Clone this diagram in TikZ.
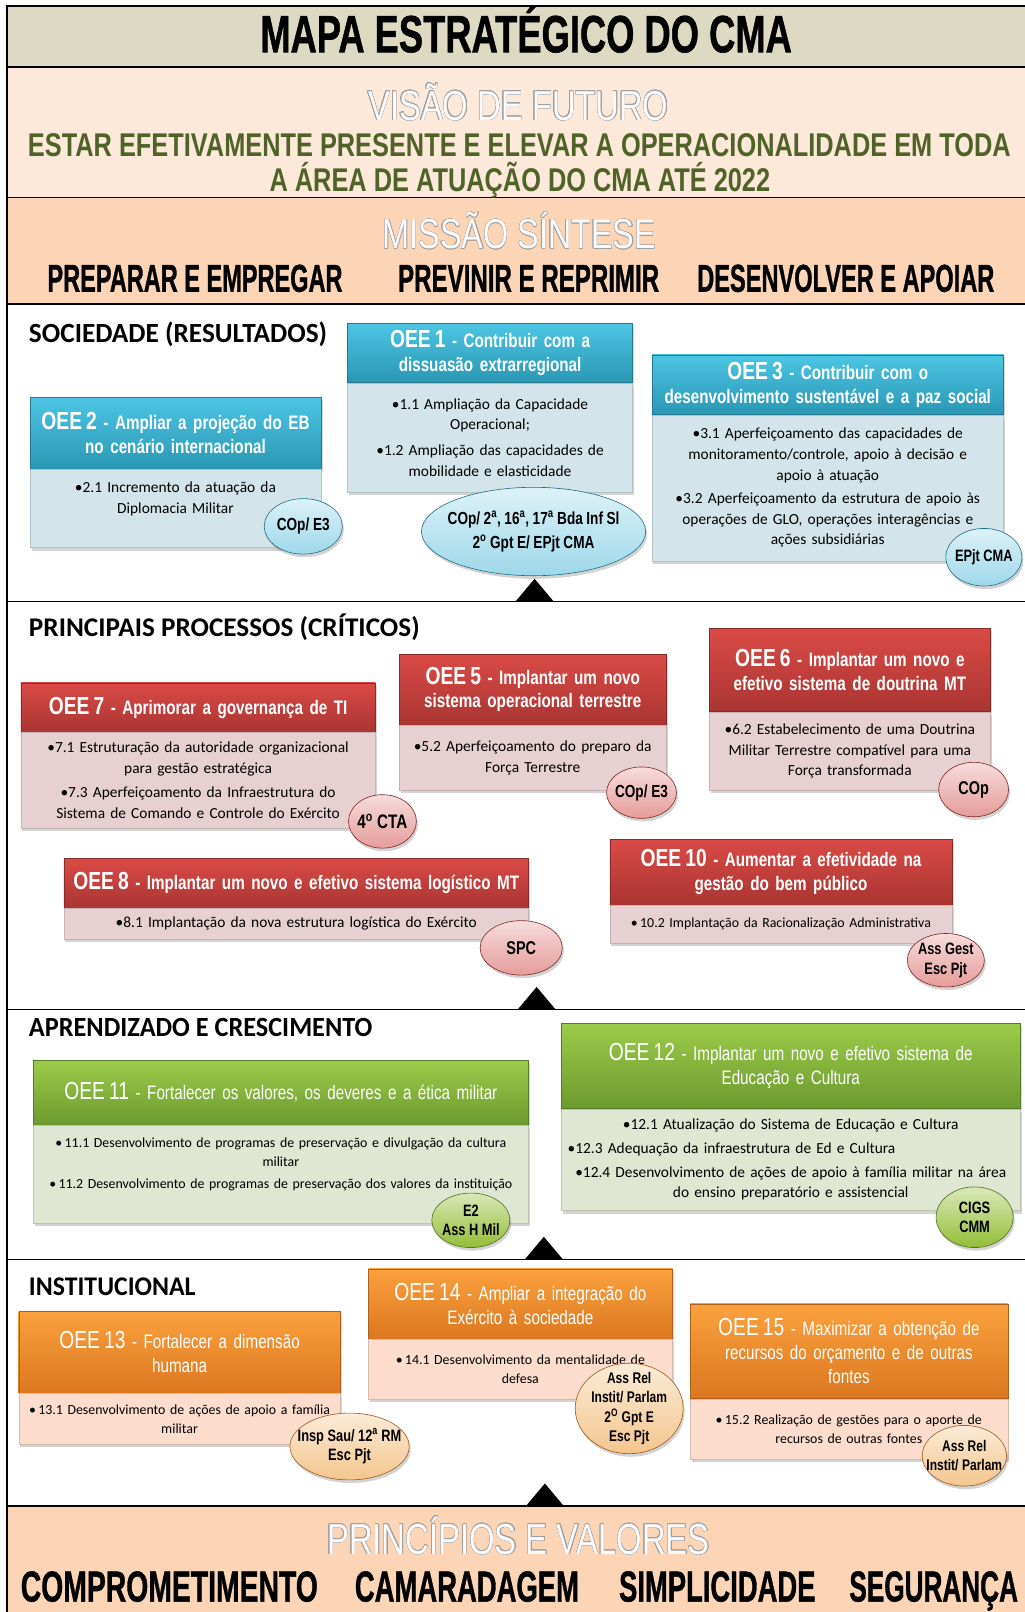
\documentclass[tikz,border=0pt]{standalone}
\usepackage{fontspec}
\setmainfont{Carlito}
\newfontfamily\hdrfont[FakeStretch=0.78]{Liberation Sans}
\newfontfamily\capfont{Liberation Sans}
\newfontfamily\heavyfont[FakeBold=1.2]{Liberation Sans}
\usepackage{graphicx}
\usepackage[copies]{contour}
\contourlength{0.4pt}
\usetikzlibrary{shapes.geometric,shadows}
\definecolor{tanbg}{HTML}{DDD9C3}
\definecolor{visbg}{HTML}{FDE9D9}
\definecolor{misbg}{HTML}{FBD5B5}
\definecolor{visgreen}{HTML}{4F6228}
\definecolor{ghostc}{HTML}{FAFAFA}
\definecolor{aquahi}{HTML}{4CC5E3}
\definecolor{aqualo}{HTML}{2A97B4}
\definecolor{aquabg}{HTML}{D3E4EA}
\definecolor{aquaov}{HTML}{9ED8EA}
\definecolor{redhi}{HTML}{DA4A46}
\definecolor{redlo}{HTML}{A93532}
\definecolor{redbg}{HTML}{E7D0D1}
\definecolor{redov}{HTML}{E59C9A}
\definecolor{grnhi}{HTML}{9CCB4A}
\definecolor{grnlo}{HTML}{6C9A2F}
\definecolor{grnbg}{HTML}{DFE6D2}
\definecolor{grnov}{HTML}{94BE36}
\definecolor{orghi}{HTML}{FBA13E}
\definecolor{orglo}{HTML}{DB7720}
\definecolor{orgbg}{HTML}{FBDCCD}
\definecolor{orgov}{HTML}{F3C68E}
\newcommand{\fitto}[3]{\resizebox{#1}{#2}{\smash{#3}\vphantom{M}}}
\newcommand{\oee}[1]{{\fontsize{24}{23}\selectfont OEE\,#1}}
\newcommand{\tightsp}{\spaceskip=3.4pt plus 1pt minus 1pt\relax}
\tikzset{
  hdr/.style={rectangle,draw=#1lo!80!black,line width=0.4pt,top color=#1hi,bottom color=#1lo,
    text=white,align=center,inner xsep=4pt,inner ysep=2pt,anchor=north west,
    font=\hdrfont\bfseries\fontsize{19}{23}\selectfont\tightsp,
    drop shadow={shadow xshift=1.5pt,shadow yshift=-2.5pt,opacity=0.3}},
  hdrlight/.style={font=\hdrfont\fontsize{19}{23}\selectfont\tightsp},
  bdy/.style={rectangle,draw=#1bg!85!black,line width=0.3pt,fill=#1bg,align=center,
    inner xsep=4pt,inner ysep=2pt,anchor=north west,font=\fontsize{15}{20}\selectfont,
    drop shadow={shadow xshift=1.5pt,shadow yshift=-3pt,opacity=0.35}},
  smalltxt/.style={font=\fontsize{13.5}{18.5}\selectfont},
  resp/.style={ellipse,draw=#1lo!75!black,line width=0.6pt,top color=#1ov!35!white,
    bottom color=#1ov,inner sep=0pt,
    drop shadow={shadow xshift=1.5pt,shadow yshift=-3pt,opacity=0.35}},
  rtxt/.style={align=center,inner sep=0pt,font=\hdrfont\bfseries\fontsize{16}{19}\selectfont\tightsp},
  bigword/.style={anchor=south west,inner sep=0pt,font=\heavyfont\bfseries\fontsize{40}{40}\selectfont},
  ghost/.style={anchor=south west,inner sep=0pt,font=\capfont\fontsize{36}{36}\selectfont,text=ghostc},
  seclbl/.style={anchor=south west,inner sep=0pt,font=\bfseries\fontsize{24}{24}\selectfont}
}
\begin{document}
\begin{tikzpicture}[x=1pt,y=-1pt]
\useasboundingbox (0,0) rectangle (997,1568);
% bands and frame
\fill[tanbg] (7,6) rectangle (997,65);
\fill[visbg] (7,65) rectangle (997,192);
\fill[misbg] (7,192) rectangle (997,296);
\fill[misbg] (7,1465) rectangle (997,1568);
\foreach \y in {6,65,192,296,585,982,1225,1465}{\draw[line width=1.6pt] (6.2,\y) -- (997,\y);}
\draw[line width=1.6pt] (7,5.2) -- (7,1568);
\foreach \x/\y in {520/585,522/982,529/1225,530/1465}{\fill (\x-18.5,\y) -- (\x,\y-22) -- (\x+18.5,\y) -- cycle;}

% top texts
\node[bigword] (titulo) at (253,51) {\fitto{517pt}{35pt}{MAPA ESTRATÉGICO DO CMA}};
\node[ghost] (visao) at (358,117) {\fitto{292pt}{28pt}{\contour{gray!75}{VISÃO DE FUTURO}}};
\node[bigword,font=\capfont\bfseries\fontsize{40}{40}\selectfont,text=visgreen] (vis1) at (27,152) {\fitto{956pt}{22pt}{ESTAR EFETIVAMENTE PRESENTE E ELEVAR A OPERACIONALIDADE EM TODA}};
\node[bigword,font=\capfont\bfseries\fontsize{40}{40}\selectfont,text=visgreen] (vis2) at (262,186) {\fitto{487pt}{22pt}{A ÁREA DE ATUAÇÃO DO CMA ATÉ 2022}};
\node[ghost] (missao) at (372,242) {\fitto{266pt}{28pt}{\contour{gray!75}{MISSÃO SÍNTESE}}};
\node[bigword] (mis1) at (46,284) {\fitto{287pt}{26pt}{PREPARAR E EMPREGAR}};
\node[bigword] (mis2) at (387,284) {\fitto{254pt}{26pt}{PREVINIR E REPRIMIR}};
\node[bigword] (mis3) at (678,284) {\fitto{289pt}{26pt}{DESENVOLVER E APOIAR}};

% sociedade
\node[seclbl] (lsoc) at (28,333.5) {\fitto{290pt}{17.5pt}{SOCIEDADE (RESULTADOS)}};
\node[hdr=aqua,text width=269pt,minimum height=58pt] (oee1h) at (338,314) {\oee{1} - Contribuir com a\\dissuasão extrarregional};
\node[bdy=aqua,text width=269pt,minimum height=106pt] (oee1b) at (oee1h.south west) {•1.1 Ampliação da Capacidade\\Operacional;\\[5pt]•1.2 Ampliação das capacidades de\\mobilidade e elasticidade};
\node[hdr=aqua,text width=275pt,minimum height=70pt] (oee2h) at (29,386) {\oee{2} - Ampliar a projeção do EB\\no cenário internacional};
\node[bdy=aqua,text width=275pt,minimum height=76pt] (oee2b) at (oee2h.south west) {•2.1 Incremento da atuação da\\Diplomacia Militar\\ \rule{0pt}{18pt}};
\node[hdr=aqua,text width=334pt,minimum height=58pt] (oee3h) at (634,345) {\oee{3} - Contribuir com o\\desenvolvimento sustentável e a paz social};
\node[bdy=aqua,text width=334pt,minimum height=142pt] (oee3b) at (oee3h.south west) {•3.1 Aperfeiçoamento das capacidades de\\monitoramento/controle, apoio à decisão e\\apoio à atuação\\[3pt]•3.2 Aperfeiçoamento da estrutura de apoio às\\operações de GLO, operações interagências e\\ações subsidiárias};
\node[resp=aqua,minimum width=76pt,minimum height=54pt,label={[rtxt,font=\hdrfont\bfseries\fontsize{17}{19}\selectfont]center:COp/ E3}] (r2) at (295,512) {};
\node[resp=aqua,minimum width=218pt,minimum height=86pt,label={[rtxt,font=\hdrfont\bfseries\fontsize{17}{23}\selectfont\tightsp]center:COp/ 2\textsuperscript{a}, 16\textsuperscript{a}, 17\textsuperscript{a} Bda Inf Sl\\2\textsuperscript{o} Gpt E/ EPjt CMA}] (r1) at (519,517) {};
\node[resp=aqua,minimum width=74pt,minimum height=56pt,label={[rtxt]center:EPjt CMA}] (r3) at (957,542) {};

% processos
\node[seclbl] (lproc) at (28,619.5) {\fitto{380pt}{17pt}{PRINCIPAIS PROCESSOS (CRÍTICOS)}};
\node[hdr=red,text width=337pt,minimum height=48pt] (oee7h) at (20,664) {\oee{7} - Aprimorar a governança de TI};
\node[bdy=red,text width=337pt,minimum height=93pt] (oee7b) at (oee7h.south west) {•7.1 Estruturação da autoridade organizacional\\para gestão estratégica\\[4pt]•7.3 Aperfeiçoamento da Infraestrutura do\\Sistema de Comando e Controle do Exército};
\node[hdr=red,text width=252pt,minimum height=69pt] (oee5h) at (388,636) {\oee{5} - Implantar um novo\\sistema operacional terrestre};
\node[bdy=red,text width=252pt,minimum height=63pt] (oee5b) at (oee5h.south west) {•5.2 Aperfeiçoamento do preparo da\\Força Terrestre};
\node[hdr=red,text width=265pt,minimum height=81pt] (oee6h) at (690,611) {\oee{6} - Implantar um novo e\\efetivo sistema de doutrina MT};
\node[bdy=red,text width=265pt,minimum height=76pt] (oee6b) at (oee6h.south west) {•6.2 Estabelecimento de uma Doutrina\\Militar Terrestre compatível para uma\\Força transformada};
\node[hdr=red,text width=444pt,minimum height=48pt] (oee8h) at (62,835) {\oee{8} - Implantar um novo e efetivo sistema logístico MT};
\node[bdy=red,text width=444pt,minimum height=30pt] (oee8b) at (oee8h.south west) {•8.1 Implantação da nova estrutura logística do Exército};
\node[hdr=red,text width=325pt,minimum height=64pt] (oee10h) at (593,816) {\oee{10} - Aumentar a efetividade na\\gestão do bem público};
\node[bdy=red,smalltxt,text width=325pt,minimum height=37pt] (oee10b) at (oee10h.south west) {•\,10.2 Implantação da Racionalização Administrativa};
\node[resp=red,minimum width=66pt,minimum height=52pt,label={[rtxt,font=\hdrfont\bfseries\fontsize{19}{19}\selectfont]center:4\textsuperscript{o} CTA}] (r7) at (372,799) {};
\node[resp=red,minimum width=68pt,minimum height=50pt,label={[rtxt,font=\hdrfont\bfseries\fontsize{17}{19}\selectfont]center:COp/ E3}] (r5) at (624,771) {};
\node[resp=red,minimum width=68pt,minimum height=53pt,label={[rtxt,font=\hdrfont\bfseries\fontsize{18}{19}\selectfont]center:COp}] (r6) at (947,768) {};
\node[resp=red,minimum width=80pt,minimum height=53pt,label={[rtxt,font=\hdrfont\bfseries\fontsize{18}{19}\selectfont]center:SPC}] (r8) at (507,922) {};
\node[resp=red,minimum width=75pt,minimum height=52pt,label={[rtxt]center:Ass Gest\\Esc Pjt}] (r10) at (920,934) {};

% aprendizado
\node[seclbl] (lapr) at (28,1008) {\fitto{334pt}{17.5pt}{APRENDIZADO E CRESCIMENTO}};
\node[hdr=grn,hdrlight,text width=474pt,minimum height=63pt] (oee11h) at (32,1031) {\oee{11} - Fortalecer os valores, os deveres e a ética militar};
\node[bdy=grn,smalltxt,text width=474pt,minimum height=95pt] (oee11b) at (oee11h.south west) {•\,11.1 Desenvolvimento de programas de preservação e divulgação da cultura\\militar\\[2pt]•\,11.2 Desenvolvimento de programas de preservação dos valores da instituição\\ \rule{0pt}{18pt}};
\node[hdr=grn,hdrlight,text width=438pt,minimum height=83pt] (oee12h) at (546,995) {\oee{12} - Implantar um novo e efetivo sistema de\\Educação e Cultura};
\node[bdy=grn,text width=438pt,minimum height=99pt] (oee12b) at (oee12h.south west) {•12.1 Atualização do Sistema de Educação e Cultura\\[3pt]\makebox[\linewidth][l]{\hspace{2pt}•12.3 Adequação da infraestrutura de Ed e Cultura}\\[3pt]•12.4 Desenvolvimento de ações de apoio à família militar na área\\do ensino preparatório e assistencial};
\node[resp=grn,minimum width=76pt,minimum height=53pt,label={[rtxt]center:E2\\Ass H Mil}] (r11) at (458,1187) {};
\node[resp=grn,minimum width=75pt,minimum height=59pt,label={[rtxt]center:CIGS\\CMM}] (r12) at (948,1184) {};

% institucional
\node[seclbl] (linst) at (28,1260) {\fitto{162pt}{17pt}{INSTITUCIONAL}};
\node[hdr=org,hdrlight,text width=305pt,minimum height=80pt] (oee13h) at (18,1275) {\oee{13} - Fortalecer a dimensão\\humana};
\node[bdy=org,smalltxt,text width=305pt,minimum height=49pt] (oee13b) at (oee13h.south west) {•\,13.1 Desenvolvimento de ações de apoio a família\\militar};
\node[hdr=org,hdrlight,text width=288pt,minimum height=68pt] (oee14h) at (358,1234) {\oee{14} - Ampliar a integração do\\Exército à sociedade};
\node[bdy=org,smalltxt,text width=288pt,minimum height=58pt] (oee14b) at (oee14h.south west) {•\,14.1 Desenvolvimento da mentalidade de\\defesa};
\node[hdr=org,hdrlight,text width=301pt,minimum height=92pt] (oee15h) at (671,1268) {\oee{15} - Maximizar a obtenção de\\recursos do orçamento e de outras\\fontes};
\node[bdy=org,smalltxt,text width=301pt,minimum height=59pt] (oee15b) at (oee15h.south west) {•\,15.2 Realização de gestões para o aporte de\\recursos de outras fontes};
\node[resp=org,minimum width=116pt,minimum height=65pt,label={[rtxt]center:Insp Sau/ 12\textsuperscript{a} RM\\Esc Pjt}] (r13) at (340,1407) {};
\node[resp=org,minimum width=105pt,minimum height=88pt,label={[rtxt,font=\hdrfont\bfseries\fontsize{15}{19}\selectfont\tightsp]center:Ass Rel\\Instit/ Parlam\\2\textsuperscript{O} Gpt E\\Esc Pjt}] (r14) at (612,1370) {};
\node[resp=org,minimum width=82pt,minimum height=59pt,label={[rtxt,font=\hdrfont\bfseries\fontsize{15}{19}\selectfont\tightsp]center:Ass Rel\\Instit/ Parlam}] (r15) at (938,1416) {};

% principios
\node[ghost] (princ) at (318,1512) {\fitto{372pt}{29pt}{\contour{gray!75}{PRINCÍPIOS E VALORES}}};
\node[bigword] (val1) at (20,1558) {\fitto{289pt}{29pt}{COMPROMETIMENTO}};
\node[bigword] (val2) at (345,1558) {\fitto{218pt}{29pt}{CAMARADAGEM}};
\node[bigword] (val3) at (602,1558) {\fitto{191pt}{29pt}{SIMPLICIDADE}};
\node[bigword] (val4) at (826,1558) {\fitto{164pt}{29pt}{SEGURANÇA}};
\end{tikzpicture}
\end{document}
